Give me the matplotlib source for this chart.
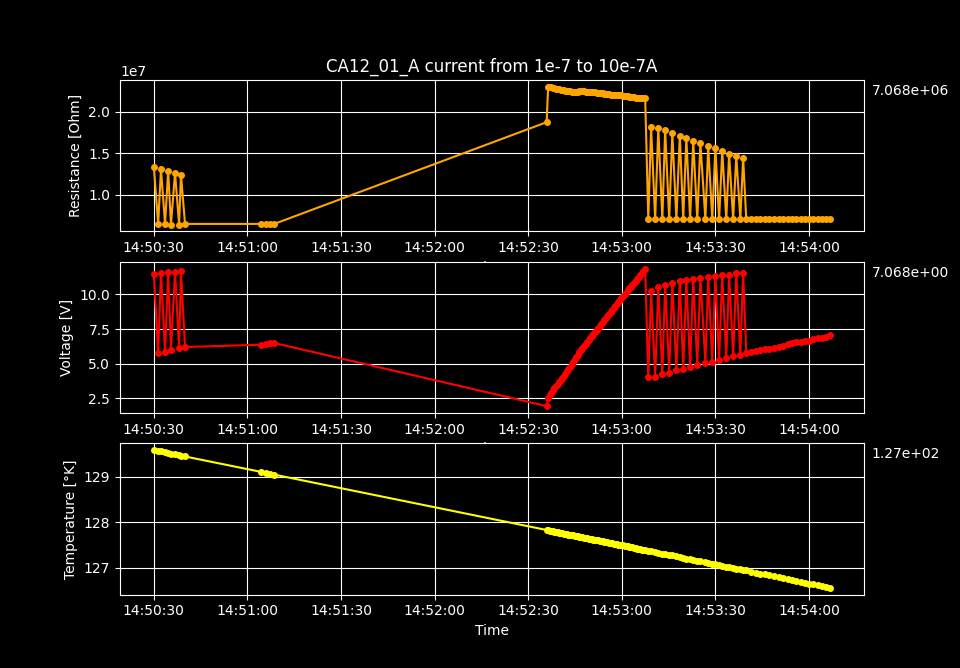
import datetime as dt
import matplotlib
matplotlib.use('Agg')
import matplotlib.pyplot as plt
import matplotlib.dates as mdates

# seconds after 14:50:30, one list per measurement block
t_a = [0.0, 1.4, 2.3, 3.6, 4.6, 5.5, 6.8, 8.1, 8.7, 10.0]
t_b = [34.4, 36.0, 37.3, 38.6]
t_c = [125.9]
t_ramp = [126.4, 126.9, 127.4, 127.9, 128.4, 128.9, 129.4, 129.9, 130.4, 130.9,
          131.4, 131.9, 132.4, 132.9, 133.4, 133.9, 134.4, 134.9, 135.4, 135.9,
          136.4, 136.9, 137.4, 137.9, 138.4, 138.9, 139.4, 139.9, 140.4, 140.9,
          141.4, 141.9, 142.4, 142.9, 143.4, 143.9, 144.4, 144.9, 145.4, 145.9,
          146.4, 146.9, 147.4, 147.9, 148.4, 148.9, 149.4, 149.9, 150.4, 150.9,
          151.4, 151.9, 152.4, 152.9, 153.4, 153.9, 154.4, 154.9, 155.4, 155.9,
          156.4, 156.9, 157.5]
t_osc = [158.5, 159.4, 160.7, 161.7, 163.0, 163.9, 165.2, 166.2, 167.5, 168.6,
         169.7, 170.7, 171.9, 172.9, 174.2, 175.2, 176.8, 177.7, 179.0, 180.0,
         181.2, 182.2, 183.5, 184.4, 185.7, 186.7, 188.0, 188.9, 189.9]
t_tail = [191.5, 193.1, 194.4, 196.0, 197.3, 198.9, 200.3, 201.8, 203.2, 204.6,
          205.9, 207.3, 208.7, 210.1, 211.4, 212.8, 214.1, 215.4, 216.8]

# resistance [Ohm]
r_a = [1.337e7, 6.47e6, 1.310e7, 6.47e6, 1.286e7, 6.39e6, 1.262e7, 6.39e6, 1.241e7, 6.47e6]
r_b = [6.47e6, 6.47e6, 6.47e6, 6.47e6]
r_c = [1.876e7]
r_ramp = [2.301e7, 2.299e7, 2.296e7, 2.290e7, 2.285e7, 2.283e7, 2.280e7, 2.274e7,
          2.268e7, 2.265e7, 2.262e7, 2.259e7, 2.256e7, 2.253e7, 2.250e7, 2.245e7,
          2.240e7, 2.238e7, 2.237e7, 2.244e7, 2.250e7, 2.251e7, 2.252e7, 2.249e7,
          2.246e7, 2.245e7, 2.245e7, 2.244e7, 2.243e7, 2.241e7, 2.240e7, 2.233e7,
          2.226e7, 2.226e7, 2.225e7, 2.223e7, 2.222e7, 2.218e7, 2.214e7, 2.211e7,
          2.208e7, 2.206e7, 2.205e7, 2.205e7, 2.205e7, 2.204e7, 2.203e7, 2.200e7,
          2.196e7, 2.194e7, 2.192e7, 2.189e7, 2.186e7, 2.182e7, 2.178e7, 2.176e7,
          2.174e7, 2.173e7, 2.172e7, 2.172e7, 2.172e7, 2.169e7, 2.165e7]
r_osc = [7.04e6, 1.816e7, 7.05e6, 1.804e7, 7.05e6, 1.780e7, 7.04e6, 1.743e7,
         7.05e6, 1.714e7, 7.05e6, 1.683e7, 7.04e6, 1.647e7, 7.05e6, 1.623e7,
         7.05e6, 1.587e7, 7.05e6, 1.563e7, 7.04e6, 1.527e7, 7.05e6, 1.490e7,
         7.05e6, 1.466e7, 7.06e6, 1.442e7, 7.06e6]
r_tail = [7.06e6, 7.06e6, 7.07e6, 7.07e6, 7.06e6, 7.07e6, 7.07e6, 7.06e6, 7.07e6,
          7.07e6, 7.07e6, 7.06e6, 7.07e6, 7.07e6, 7.07e6, 7.07e6, 7.07e6, 7.07e6, 7.068e6]

# voltage [V]
v_a = [11.50, 5.76, 11.58, 5.86, 11.65, 5.98, 11.65, 6.10, 11.72, 6.20]
v_b = [6.37, 6.42, 6.49, 6.49]
v_c = [1.93]
v_ramp = [2.49, 2.72, 2.90, 3.06, 3.22, 3.39, 3.55, 3.70, 3.84, 3.98, 4.12, 4.28,
          4.45, 4.62, 4.79, 4.96, 5.14, 5.31, 5.48, 5.65, 5.82, 5.98, 6.13, 6.29,
          6.44, 6.59, 6.73, 6.88, 7.02, 7.17, 7.31, 7.46, 7.60, 7.73, 7.87, 8.01,
          8.15, 8.29, 8.43, 8.58, 8.72, 8.86, 9.00, 9.15, 9.30, 9.44, 9.58, 9.72,
          9.86, 10.00, 10.14, 10.29, 10.43, 10.57, 10.71, 10.84, 10.98, 11.12,
          11.26, 11.40, 11.54, 11.70, 11.87]
v_osc = [4.02, 10.24, 4.06, 10.56, 4.24, 10.70, 4.35, 10.85, 4.53, 11.00, 4.60,
         11.07, 4.75, 11.14, 4.89, 11.21, 5.04, 11.26, 5.11, 11.36, 5.25, 11.43,
         5.40, 11.43, 5.55, 11.58, 5.62, 11.58, 5.78]
v_tail = [5.84, 5.91, 5.98, 6.05, 6.07, 6.15, 6.22, 6.31, 6.39, 6.46, 6.53, 6.57,
          6.60, 6.67, 6.75, 6.82, 6.88, 6.96, 7.068]

# temperature [K]
k_a = [129.59, 129.57, 129.56, 129.54, 129.53, 129.51, 129.50, 129.48, 129.47, 129.45]
k_b = [129.11, 129.09, 129.07, 129.05]
k_c = [127.83]
k_ramp = [127.82, 127.81, 127.81, 127.80, 127.79, 127.79, 127.78, 127.77, 127.77,
          127.76, 127.75, 127.74, 127.74, 127.73, 127.72, 127.72, 127.71, 127.70,
          127.70, 127.69, 127.68, 127.67, 127.67, 127.66, 127.66, 127.65, 127.64,
          127.63, 127.63, 127.62, 127.61, 127.61, 127.60, 127.59, 127.59, 127.58,
          127.57, 127.56, 127.56, 127.55, 127.54, 127.54, 127.53, 127.52, 127.52,
          127.51, 127.50, 127.49, 127.49, 127.48, 127.47, 127.47, 127.46, 127.45,
          127.45, 127.44, 127.43, 127.42, 127.42, 127.41, 127.40, 127.40, 127.39]
k_osc = [127.37, 127.36, 127.34, 127.33, 127.31, 127.30, 127.28, 127.27, 127.25,
         127.23, 127.22, 127.20, 127.19, 127.17, 127.15, 127.14, 127.12, 127.11,
         127.09, 127.07, 127.06, 127.04, 127.02, 127.01, 126.99, 126.98, 126.96,
         126.95, 126.94]
k_tail = [126.91, 126.89, 126.87, 126.85, 126.83, 126.81, 126.79, 126.77, 126.75,
          126.73, 126.71, 126.69, 126.67, 126.65, 126.63, 126.61, 126.60, 126.58, 126.56]

start = dt.datetime(2023, 5, 4, 14, 50, 30)
secs = t_a + t_b + t_c + t_ramp + t_osc + t_tail
times = [start + dt.timedelta(seconds=s) for s in secs]
resistance = r_a + r_b + r_c + r_ramp + r_osc + r_tail
voltage = v_a + v_b + v_c + v_ramp + v_osc + v_tail
temperature = k_a + k_b + k_c + k_ramp + k_osc + k_tail

plt.style.use('dark_background')
fig, axes = plt.subplots(3, 1, figsize=(9.6, 6.68), dpi=100)

panels = [
    (resistance, 'orange', 'Resistance [Ohm]', '{:.3e}'),
    (voltage, 'red', 'Voltage [V]', '{:.3e}'),
    (temperature, 'yellow', 'Temperature [°K]', '{:.2e}'),
]

for ax, (vals, color, label, fmt) in zip(axes, panels):
    ax.plot(times, vals, '-o', color=color, markersize=4, linewidth=1.5)
    ax.set_ylabel(label)
    ax.set_xlabel('Time')
    ax.grid(True, color='white')
    ax.xaxis.set_major_locator(mdates.SecondLocator(bysecond=[0, 30]))
    ax.xaxis.set_major_formatter(mdates.DateFormatter('%H:%M:%S'))
    ax.text(1.01, 0.9, fmt.format(vals[-1]), transform=ax.transAxes, color='white')

axes[0].set_title('CA12_01_A current from 1e-7 to 10e-7A')

fig.savefig('out.png', dpi=100)
